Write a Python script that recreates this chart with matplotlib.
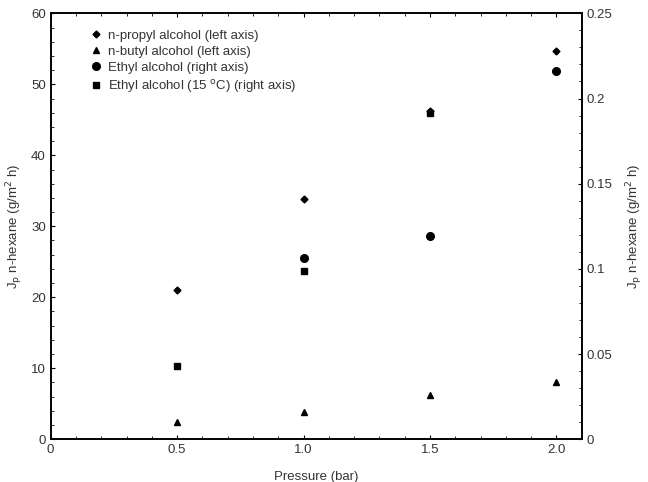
import matplotlib
matplotlib.use("Agg")
import matplotlib.pyplot as plt
from matplotlib.ticker import MultipleLocator

plt.rcParams['font.family'] = ['Liberation Sans', 'DejaVu Sans']

# data
pressure = [0.5, 1.0, 1.5, 2.0]
propyl = [21.0, 33.9, 46.3, 54.7]          # left axis
butyl = [2.4, 3.9, 6.2, 8.0]               # left axis
ethyl_p = [1.0, 1.5, 2.0]
ethyl = [0.1066, 0.1195, 0.216]            # right axis
ethyl15_p = [0.5, 1.0, 1.5]
ethyl15 = [0.043, 0.0985, 0.1915]          # right axis

fig = plt.figure(figsize=(6.48, 4.82), dpi=100)
ax = fig.add_axes([0.0782, 0.0886, 0.8194, 0.8838])
ax2 = ax.twinx()

h1, = ax.plot(pressure, propyl, 'D', color='black', ms=3.5, ls='none',
              label='n-propyl alcohol (left axis)')
h2, = ax.plot(pressure, butyl, '^', color='black', ms=5, ls='none',
              label='n-butyl alcohol (left axis)')
h3, = ax2.plot(ethyl_p, ethyl, 'o', color='black', ms=5.5, ls='none',
               label='Ethyl alcohol (right axis)')
h4, = ax2.plot(ethyl15_p, ethyl15, 's', color='black', ms=5, ls='none',
               label='Ethyl alcohol (15 $^{\\mathrm{o}}$C) (right axis)')

ax.set_xlim(0, 2.1)
ax.set_ylim(0, 60)
ax2.set_ylim(0, 0.25)

ax.set_xticks([0, 0.5, 1.0, 1.5, 2.0])
ax.set_xticklabels(['0', '0.5', '1.0', '1.5', '2.0'])
ax.xaxis.set_minor_locator(MultipleLocator(0.1))
ax.yaxis.set_major_locator(MultipleLocator(10))
ax.yaxis.set_minor_locator(MultipleLocator(2))
ax2.set_yticks([0, 0.05, 0.1, 0.15, 0.2, 0.25])
ax2.set_yticklabels(['0', '0.05', '0.1', '0.15', '0.2', '0.25'])
ax2.yaxis.set_minor_locator(MultipleLocator(0.01))

txt = '#333333'
fs = 9.5
ax.tick_params(axis='x', which='both', direction='in', top=True, labelsize=fs, labelcolor=txt)
ax.tick_params(axis='y', which='both', direction='in', labelsize=fs, labelcolor=txt)
ax2.tick_params(axis='y', which='both', direction='in', labelsize=fs, labelcolor=txt)
for a in (ax, ax2):
    a.tick_params(which='major', length=3)
    a.tick_params(which='minor', length=2)
    for s in a.spines.values():
        s.set_linewidth(1.2)

ax.set_xlabel('Pressure (bar)', fontsize=fs, color=txt, labelpad=11)
ax.set_ylabel('J$_\\mathrm{p}$ n-hexane (g/m$^2$ h)', fontsize=fs, color=txt, labelpad=4)
ax2.set_ylabel('J$_\\mathrm{p}$ n-hexane (g/m$^2$ h)', fontsize=fs, color=txt, labelpad=9)

ax.legend(handles=[h1, h2, h3, h4], loc='upper left', bbox_to_anchor=(0.05, 0.99),
          frameon=False, fontsize=fs, handletextpad=0.4, labelspacing=0.3,
          handlelength=1.0, labelcolor=txt)

fig.savefig('out.png', dpi=100)
